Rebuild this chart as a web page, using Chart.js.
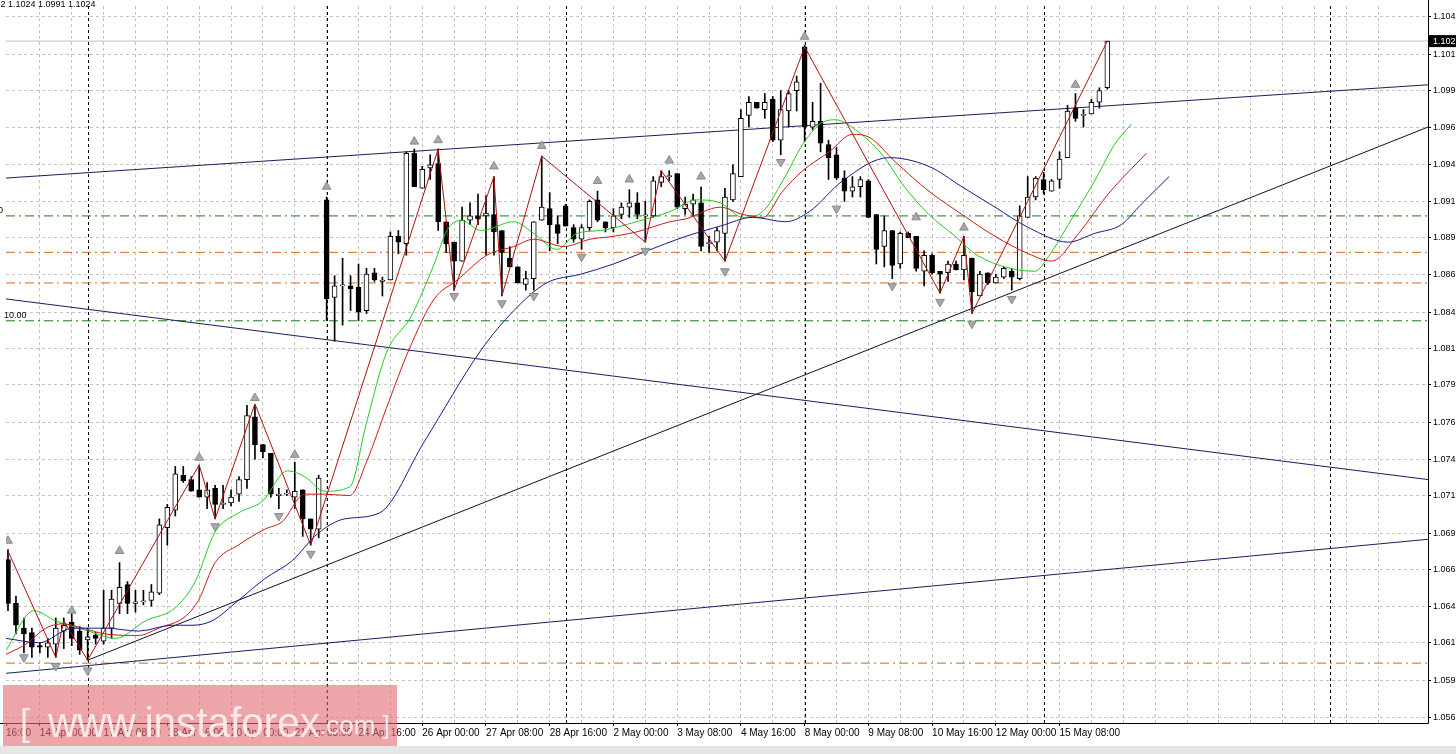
<!DOCTYPE html>
<html>
<head>
<meta charset="utf-8">
<script src="https://cdn.jsdelivr.net/npm/chart.js@4.4.1/dist/chart.umd.min.js"></script>
<style>
  html, body { margin: 0; padding: 0; background: #e6e6e6; }
  #wrap { width: 1456px; height: 746px; background: #fff; }
</style>
</head>
<body>
<div id="wrap"><canvas id="c"></canvas></div>
<script>
// EURUSD H4 candles, 13 Apr - 15 May
const opens = [1.0668,1.0638,1.0621,1.0618,1.0609,1.0608,1.0610,1.0619,1.0625,1.0619,1.0613,1.0616,1.0612,1.0621,1.0638,1.0651,1.0638,1.0639,1.0640,1.0645,
  1.0690,1.0702,1.0726,1.0723,1.0716,1.0711,1.0717,1.0706,1.0707,1.0713,1.0723,1.0766,1.0747,1.0741,1.0712,1.0713,1.0711,1.0716,1.0696,1.0689,
  1.0915,1.0848,1.0856,1.0856,1.0855,1.0839,1.0865,1.0859,1.0860,1.0890,1.0885,1.0947,1.0923,1.0937,1.0940,1.0900,1.0886,1.0873,1.0901,1.0904,
  1.0904,1.0905,1.0894,1.0875,1.0869,1.0857,1.0861,1.0901,1.0909,1.0898,1.0911,1.0896,1.0888,1.0896,1.0915,1.0900,1.0896,1.0905,1.0910,1.0913,
  1.0904,1.0904,1.0927,1.0931,1.0933,1.0909,1.0912,1.0913,1.0885,1.0886,1.0892,1.0915,1.0931,1.0973,1.0982,1.0977,1.0984,1.0956,1.0976,1.0990,
  1.1020,1.0965,1.0969,1.0953,1.0946,1.0930,1.0921,1.0924,1.0928,1.0905,1.0883,1.0894,1.0871,1.0892,1.0890,1.0866,1.0877,1.0866,1.0865,1.0871,
  1.0867,1.0875,1.0849,1.0865,1.0858,1.0862,1.0866,1.0861,1.0903,1.0917,1.0929,1.0921,1.0929,1.0944,1.0978,1.0973,1.0974,1.0982,1.0992];
const highs = [1.0675,1.0643,1.0628,1.0621,1.0611,1.0614,1.0628,1.0628,1.0631,1.0622,1.0621,1.0618,1.0647,1.0647,1.0666,1.0653,1.0647,1.0647,1.0651,1.0696,
  1.0706,1.0732,1.0732,1.0725,1.0733,1.0721,1.0719,1.0719,1.0716,1.0725,1.0774,1.0774,1.0747,1.0741,1.0717,1.0716,1.0735,1.0716,1.0696,1.0726,
  1.0917,1.0863,1.0875,1.0863,1.0871,1.0868,1.0868,1.0862,1.0893,1.0894,1.0948,1.0950,1.0938,1.0946,1.0950,1.0900,1.0886,1.0910,1.0913,1.0919,
  1.0918,1.0931,1.0894,1.0883,1.0869,1.0866,1.0900,1.0945,1.0920,1.0904,1.0912,1.0898,1.0898,1.0915,1.0921,1.0900,1.0909,1.0913,1.0922,1.0920,
  1.0914,1.0931,1.0935,1.0935,1.0933,1.0917,1.0919,1.0924,1.0890,1.0896,1.0923,1.0939,1.0977,1.0986,1.0982,1.0988,1.0986,1.0990,1.0990,1.1000,
  1.1021,1.0982,1.0995,1.0956,1.0951,1.0935,1.0931,1.0931,1.0929,1.0905,1.0904,1.0894,1.0893,1.0893,1.0890,1.0880,1.0878,1.0866,1.0873,1.0873,
  1.0890,1.0875,1.0866,1.0865,1.0864,1.0869,1.0868,1.0911,1.0931,1.0931,1.0934,1.0929,1.0948,1.0980,1.0988,1.0977,1.0984,1.0992,1.1024];
const lows = [1.0633,1.0617,1.0604,1.0601,1.0604,1.0601,1.0601,1.0607,1.0609,1.0603,1.0599,1.0610,1.0610,1.0614,1.0631,1.0631,1.0632,1.0637,1.0636,1.0644,
  1.0678,1.0698,1.0721,1.0715,1.0711,1.0703,1.0696,1.0703,1.0705,1.0708,1.0717,1.0737,1.0738,1.0711,1.0703,1.0712,1.0703,1.0684,1.0678,1.0683,
  1.0832,1.0818,1.0829,1.0839,1.0832,1.0837,1.0859,1.0849,1.0860,1.0878,1.0877,1.0924,1.0923,1.0929,1.0894,1.0879,1.0853,1.0873,1.0898,1.0898,
  1.0877,1.0877,1.0849,1.0869,1.0858,1.0853,1.0853,1.0901,1.0880,1.0885,1.0897,1.0886,1.0881,1.0894,1.0900,1.0893,1.0893,1.0902,1.0903,1.0902,
  1.0886,1.0903,1.0924,1.0928,1.0909,1.0905,1.0904,1.0880,1.0879,1.0880,1.0873,1.0914,1.0931,1.0965,1.0978,1.0971,1.0955,1.0946,1.0965,1.0976,
  1.0955,1.0963,1.0948,1.0929,1.0929,1.0914,1.0917,1.0917,1.0903,1.0871,1.0869,1.0861,1.0868,1.0889,1.0866,1.0856,1.0864,1.0851,1.0859,1.0867,
  1.0860,1.0837,1.0849,1.0857,1.0858,1.0861,1.0853,1.0860,1.0903,1.0915,1.0919,1.0921,1.0923,1.0944,1.0969,1.0965,1.0974,1.0978,1.0991];
const closes = [1.0638,1.0623,1.0617,1.0608,1.0608,1.0611,1.0621,1.0623,1.0614,1.0606,1.0615,1.0614,1.0621,1.0641,1.0649,1.0638,1.0639,1.0639,1.0646,1.0692,
  1.0704,1.0727,1.0722,1.0715,1.0711,1.0716,1.0706,1.0706,1.0711,1.0723,1.0767,1.0747,1.0742,1.0713,1.0713,1.0713,1.0715,1.0696,1.0689,1.0724,
  1.0847,1.0856,1.0856,1.0854,1.0838,1.0864,1.0860,1.0860,1.0890,1.0886,1.0947,1.0924,1.0936,1.0939,1.0900,1.0885,1.0873,1.0901,1.0904,1.0902,
  1.0906,1.0893,1.0879,1.0869,1.0858,1.0861,1.0900,1.0910,1.0898,1.0892,1.0897,1.0888,1.0896,1.0914,1.0901,1.0896,1.0904,1.0910,1.0913,1.0905,
  1.0904,1.0928,1.0931,1.0931,1.0910,1.0912,1.0915,1.0883,1.0885,1.0894,1.0917,1.0933,1.0971,1.0982,1.0978,1.0982,1.0956,1.0977,1.0988,1.0996,
  1.0965,1.0969,1.0954,1.0944,1.0930,1.0921,1.0924,1.0929,1.0903,1.0881,1.0894,1.0870,1.0892,1.0889,1.0868,1.0877,1.0865,1.0864,1.0871,1.0867,
  1.0877,1.0852,1.0864,1.0858,1.0862,1.0868,1.0862,1.0904,1.0917,1.0930,1.0922,1.0928,1.0943,1.0976,1.0971,1.0973,1.0982,1.0990,1.1024];

// moving averages: [bar index, price]
const maFast = [[-0.25,1.0606],[3.25,1.0633],[6,1.0626],[10.1,1.0619],[13.5,1.0614],[17.25,1.0626],[21,1.0635],[23.5,1.0653],[26,1.0687],[28.9,1.0700],
  [31.9,1.0708],[35.1,1.0729],[37.25,1.0725],[39.75,1.0715],[42.9,1.0718],[45,1.0762],[47.5,1.0810],[50.6,1.0835],[53.5,1.0871],[55.1,1.0894],
  [56.9,1.0901],[59.4,1.0894],[63.5,1.0900],[66,1.0892],[68.9,1.0881],[71.4,1.0892],[74.4,1.0894],[78.9,1.0900],[83.1,1.0907],[86.4,1.0915],
  [89.4,1.0913],[92.25,1.0903],[94.75,1.0907],[97.25,1.0928],[99.75,1.0953],[101.9,1.0967],[103.9,1.0970],[106.4,1.0963],[109.75,1.0946],[112.25,1.0926],
  [115.6,1.0905],[118.9,1.0890],[121.4,1.0878],[125.1,1.0869],[128.9,1.0866],[130.6,1.0876],[133.1,1.0898],[136.4,1.0928],[138.9,1.0953],[141,1.0967]];
const maMid = [[-0.25,1.0603],[2.25,1.0610],[4.75,1.0621],[6.9,1.0624],[9.4,1.0621],[12.25,1.0617],[16.4,1.0616],[18.9,1.0621],[22.25,1.0629],[23.9,1.0640],
  [26,1.0666],[28.9,1.0678],[32.25,1.0689],[34.4,1.0694],[37.25,1.0713],[39.75,1.0713],[42.9,1.0712],[45,1.0735],[47.5,1.0772],[50.4,1.0813],
  [53.5,1.0847],[56.4,1.0860],[60.1,1.0877],[63.5,1.0883],[66,1.0888],[69.75,1.0883],[73.1,1.0888],[76,1.0890],[78.9,1.0893],[83.1,1.0900],
  [85.1,1.0902],[89.4,1.0910],[92.25,1.0905],[94.75,1.0903],[97.25,1.0921],[99.75,1.0935],[103.1,1.0948],[106,1.0960],[108.1,1.0958],[111.4,1.0941],
  [115.6,1.0921],[119.75,1.0905],[123.9,1.0890],[128.1,1.0878],[131,1.0873],[134.4,1.0892],[138.1,1.0919],[142.9,1.0947]];
const maSlow = [[-0.25,1.0614],[3.9,1.0611],[8.1,1.0621],[12.25,1.0621],[16.4,1.0619],[20.6,1.0623],[23.1,1.0623],[25.6,1.0626],[28.9,1.0640],[32.25,1.0655],
  [35.6,1.0667],[38.9,1.0686],[42.25,1.0696],[46.6,1.0700],[52.25,1.0749],[59.4,1.0812],[63.5,1.0839],[67.6,1.0858],[71.9,1.0864],[76,1.0871],
  [79.75,1.0879],[85.1,1.0890],[89.4,1.0897],[93.5,1.0903],[97.6,1.0900],[100.6,1.0907],[104.75,1.0928],[110.6,1.0944],[115.6,1.0938],[119.75,1.0924],
  [123.9,1.0910],[128.1,1.0896],[133.1,1.0886],[136.4,1.0892],[139.75,1.0898],[142.25,1.0912],[145.75,1.0931]];
const zigzag = [[0,1.0674],[6,1.0601],[7,1.0626],[10,1.0599],[24,1.0733],[26,1.0696],[31,1.0775],[38,1.0678],[54,1.0950],[56,1.0853],
  [61,1.0931],[62,1.0849],[67,1.0945],[80,1.0886],[82,1.0935],[90,1.0873],[100,1.1020],[117,1.0851],[120,1.0890],[121,1.0837],[138,1.1024]];
const fractalUp = [[0,1.0681],[8,1.0633],[14,1.0674],[24,1.0738],[31,1.0779],[36,1.0740],[40,1.0924],[51,1.0955],[54,1.0956],[61,1.0938],
  [67,1.0952],[74,1.0928],[78,1.0929],[83,1.0942],[87,1.0931],[100,1.1027],[114,1.0903],[120,1.0896],[134,1.0994]];
const fractalDown = [[2,1.0601],[6,1.0595],[10,1.0592],[26,1.0691],[34,1.0698],[38,1.0672],[56,1.0849],[62,1.0844],[66,1.0849],[72,1.0876],
  [80,1.0880],[90,1.0866],[97,1.0941],[104,1.0909],[111,1.0856],[117,1.0845],[121,1.0830],[126,1.0847]];

// drawn objects: [startIndex, startPrice, endIndex, endPrice]
const trendLines = [
  [-0.25, 1.0930, 178.25, 1.0994, '#1c1c5c'],
  [-0.25, 1.0847, 178.25, 1.0723, '#1c1c5c'],
  [10, 1.0599, 178.25, 1.0965, '#101030'],
  [-0.25, 1.0590, 178.25, 1.0682, '#1c1c5c']
];
const levelsGreen = [1.0904, 1.0832];
const levelsOrange = [1.0879, 1.0858, 1.0597];
const lastPrice = 1.1024;

const yTicks = [1.1041,1.1015,1.0990,1.0965,1.0939,1.0914,1.0889,1.0864,1.0838,1.0813,1.0788,1.0762,1.0737,1.0712,1.0686,1.0661,1.0636,1.0611,1.0585,1.0560];
const yLabels = ['1.104','1.101','1.099','1.096','1.094','1.091','1.089','1.086','1.084','1.081','1.079','1.076','1.074','1.071','1.069','1.066','1.064','1.061','1.059','1.056'];
const xTickIdx = [-0.25,4,12,20,28,36,44,52,60,68,76,84,92,100,108,116,124,132];
const xLabels = ['16:00','14 Apr 00:00','17 Apr 08:00','18 Apr 16:00','20 Apr 00:00','21 Apr 08:00','24 Apr 16:00','26 Apr 00:00','27 Apr 08:00',
  '28 Apr 16:00','2 May 00:00','3 May 08:00','4 May 16:00','8 May 00:00','9 May 08:00','10 May 16:00','12 May 00:00','15 May 08:00'];
const daySeparators = [10, 40, 70.1, 100.1, 130.1, 166];

const X_MIN = -0.25, X_MAX = 178.25, Y_MIN = 1.05559, Y_MAX = 1.10481;
const idx = opens.map((_, i) => i);
const bull = i => closes[i] >= opens[i];
const pts = arr => arr.map(p => ({ x: p[0], y: p[1] }));

const datasets = [];
datasets.push({
  type: 'bar', data: idx.map(i => ({ x: i, y: [lows[i], highs[i]] })),
  backgroundColor: '#000', barThickness: 1, grouped: false, order: 20
});
datasets.push({
  type: 'bar', data: idx.map(i => ({ x: i, y: [opens[i], closes[i]] })),
  backgroundColor: c => bull(c.dataIndex) ? '#fff' : '#000',
  borderColor: '#000', borderWidth: 1, borderSkipped: false, minBarLength: 1,
  barThickness: 5, grouped: false, order: 19
});
trendLines.forEach(t => datasets.push({
  type: 'line', data: [{ x: t[0], y: t[1] }, { x: t[2], y: t[3] }],
  borderColor: t[4], borderWidth: 1, pointRadius: 0, order: 30
}));
levelsGreen.forEach(v => datasets.push({
  type: 'line', data: [{ x: X_MIN, y: v }, { x: X_MAX, y: v }],
  borderColor: '#167a16', borderWidth: 1, borderDash: [9, 4, 2, 4], pointRadius: 0, order: 31
}));
levelsOrange.forEach(v => datasets.push({
  type: 'line', data: [{ x: X_MIN, y: v }, { x: X_MAX, y: v }],
  borderColor: '#d2691e', borderWidth: 1, borderDash: [9, 4, 2, 4], pointRadius: 0, order: 31
}));
datasets.push({
  type: 'line', data: [{ x: X_MIN, y: lastPrice }, { x: X_MAX, y: lastPrice }],
  borderColor: '#c0c0c0', borderWidth: 1, pointRadius: 0, order: 32
});
[[maSlow, '#1a1a8c'], [maMid, '#cc1a1a'], [maFast, '#22cc22']].forEach(m => datasets.push({
  type: 'line', data: pts(m[0]), borderColor: m[1], borderWidth: 1, pointRadius: 0,
  tension: 0.4, cubicInterpolationMode: 'monotone', order: 10
}));
datasets.push({
  type: 'line', data: pts(zigzag), borderColor: '#b01010', borderWidth: 1, pointRadius: 0, order: 9
});
datasets.push({
  type: 'line', data: pts(fractalUp), showLine: false, pointStyle: 'triangle', pointRadius: 5,
  backgroundColor: '#a8a8a8', borderColor: '#8a8a8a', borderWidth: 1, order: 8
});
datasets.push({
  type: 'line', data: pts(fractalDown), showLine: false, pointStyle: 'triangle', pointRadius: 5, pointRotation: 180,
  backgroundColor: '#a8a8a8', borderColor: '#8a8a8a', borderWidth: 1, order: 8
});

const axisFont = { family: 'Liberation Sans', size: 10 };
const noPad = ax => { ax.paddingLeft = 0; ax.paddingRight = 0; ax.paddingTop = 0; ax.paddingBottom = 0; };

const decor = {
  id: 'decor',
  beforeDraw(chart) {
    const { ctx } = chart;
    ctx.save();
    ctx.fillStyle = '#fff';
    ctx.fillRect(0, 0, chart.width, chart.height);
    ctx.restore();
  },
  beforeDatasetsDraw(chart) {
    const { ctx, chartArea: a, scales } = chart;
    ctx.save();
    ctx.strokeStyle = '#000';
    ctx.lineWidth = 1;
    ctx.setLineDash([3, 3]);
    daySeparators.forEach(v => {
      const x = Math.round(scales.x.getPixelForValue(v)) + 0.5;
      ctx.beginPath(); ctx.moveTo(x, a.top); ctx.lineTo(x, a.bottom); ctx.stroke();
    });
    ctx.restore();
  },
  afterDraw(chart) {
    const { ctx, chartArea: a, scales } = chart;
    ctx.save();
    ctx.strokeStyle = '#000';
    ctx.lineWidth = 1;
    ctx.beginPath();
    ctx.moveTo(a.right + 0.5, 0); ctx.lineTo(a.right + 0.5, a.bottom + 0.5); ctx.lineTo(0, a.bottom + 0.5);
    ctx.stroke();
    // last price tag
    const yp = scales.y.getPixelForValue(lastPrice);
    ctx.fillStyle = '#000';
    ctx.fillRect(a.right + 1, yp - 6, chart.width - a.right, 12);
    ctx.fillStyle = '#fff';
    ctx.font = '9px Liberation Sans';
    ctx.textBaseline = 'middle';
    ctx.fillText(lastPrice.toFixed(3), a.right + 5, yp);
    // header and fibo texts
    ctx.fillStyle = '#000';
    ctx.font = '9px Liberation Sans';
    ctx.textBaseline = 'top';
    ctx.fillText('1.0992 1.1024 1.0991 1.1024', -22, 0);
    ctx.textBaseline = 'bottom';
    ctx.fillText('0', -2, scales.y.getPixelForValue(levelsGreen[0]) - 1);
    ctx.fillText('10.00', 4, scales.y.getPixelForValue(levelsGreen[1]) - 1);
    // watermark
    ctx.fillStyle = 'rgba(226, 110, 116, 0.62)';
    ctx.fillRect(3, 685, 394, chart.height - 685);
    ctx.fillStyle = 'rgba(255, 238, 238, 0.92)';
    ctx.textBaseline = 'alphabetic';
    ctx.font = '36px Liberation Sans';
    ctx.fillText('[', 20, 735);
    ctx.font = '42px Liberation Sans';
    const w = ctx.measureText('www.instaforex').width;
    ctx.save();
    ctx.translate(48, 737);
    ctx.scale(272 / w, 1);
    ctx.fillText('www.instaforex', 0, 0);
    ctx.restore();
    ctx.font = '26px Liberation Sans';
    ctx.fillText('.com ]', 319, 734);
    ctx.restore();
  }
};

new Chart(document.getElementById('c'), {
  type: 'bar',
  data: { datasets },
  options: {
    responsive: true,
    maintainAspectRatio: false,
    animation: false,
    devicePixelRatio: 1,
    layout: { padding: 0 },
    plugins: { legend: { display: false }, tooltip: { enabled: false } },
    scales: {
      x: {
        type: 'linear', min: X_MIN, max: X_MAX, position: 'bottom', offset: false,
        afterBuildTicks: ax => { ax.ticks = xTickIdx.map(v => ({ value: v })); },
        afterFit: ax => { ax.height = 23; noPad(ax); },
        ticks: {
          autoSkip: false, maxRotation: 0, align: 'start', padding: 1,
          font: axisFont, color: '#000',
          callback: (v, i) => xLabels[i]
        },
        grid: { drawOnChartArea: false, drawTicks: true, tickLength: 3, color: '#000', offset: false },
        border: { display: false }
      },
      xg: {
        type: 'linear', min: X_MIN, max: X_MAX, position: 'bottom', offset: false,
        afterBuildTicks: ax => { ax.ticks = ax.ticks.filter(t => t.value % 4 === 0); },
        afterFit: ax => { ax.height = 0; noPad(ax); },
        ticks: { display: false, stepSize: 4 },
        grid: { color: '#c4c4c4', drawTicks: false, offset: false },
        border: { display: false, dash: [3, 3] }
      },
      y: {
        position: 'right', min: Y_MIN, max: Y_MAX,
        afterBuildTicks: ax => { ax.ticks = yTicks.map(v => ({ value: v })); },
        afterFit: ax => { ax.width = 28; noPad(ax); },
        ticks: {
          font: { family: 'Liberation Sans', size: 9 }, color: '#000', padding: 2,
          callback: (v, i) => yLabels[i]
        },
        grid: { color: '#c4c4c4', tickColor: '#000', tickLength: 3 },
        border: { display: false, dash: [3, 3] }
      }
    }
  },
  plugins: [decor]
});
</script>
</body>
</html>
